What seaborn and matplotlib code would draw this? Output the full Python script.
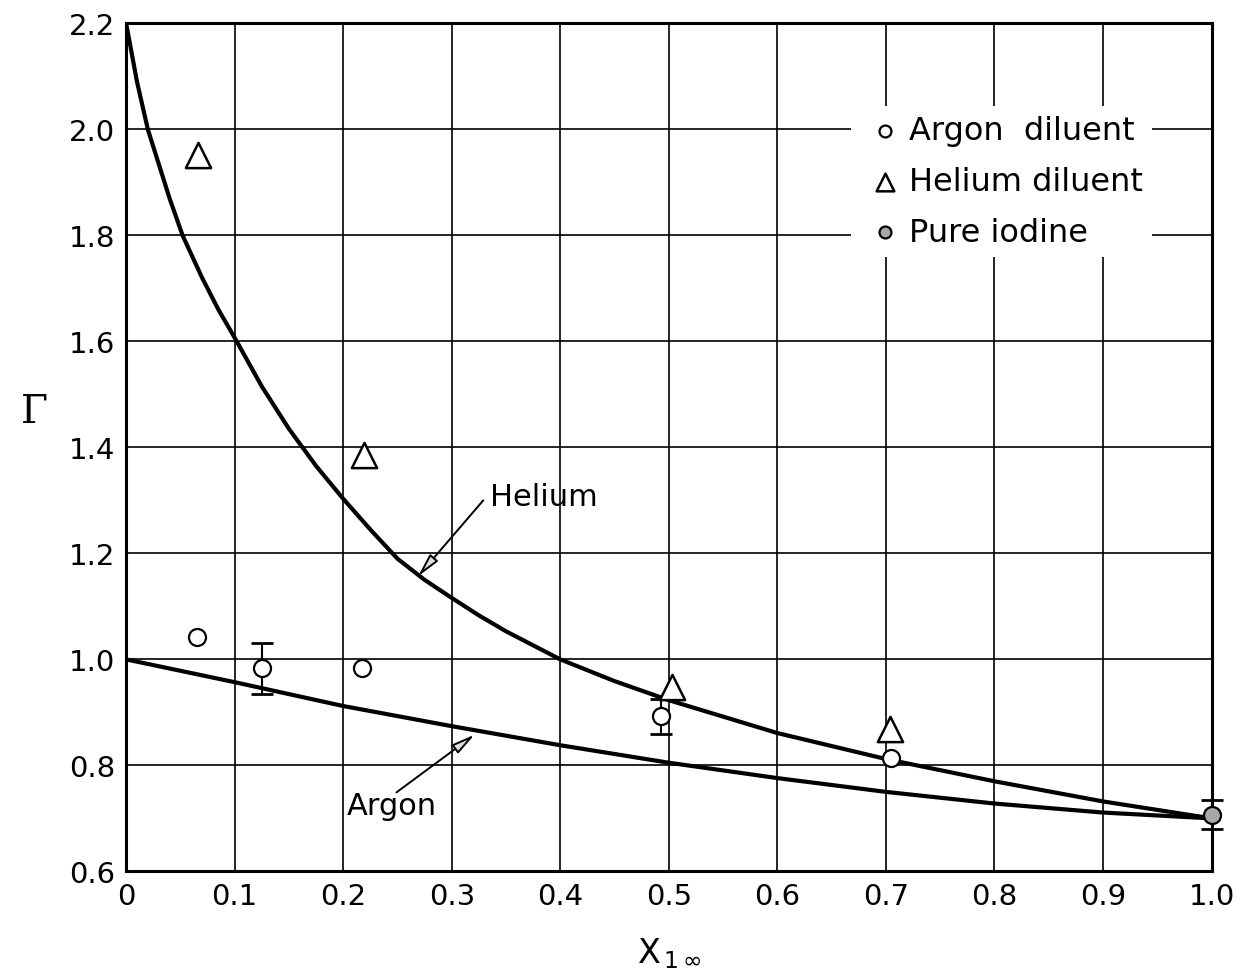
import numpy as np
import pandas as pd
import matplotlib
matplotlib.use('Agg')
import matplotlib.pyplot as plt
import seaborn as sns

# --- data ---
helium_x = [0, 0.01, 0.02, 0.03, 0.04, 0.052, 0.07, 0.085, 0.1, 0.125, 0.15, 0.175, 0.2,
            0.225, 0.25, 0.275, 0.3, 0.325, 0.35, 0.4, 0.45, 0.5, 0.6, 0.7, 0.8, 0.9, 1.0]
helium_y = [2.2, 2.09, 2.0, 1.935, 1.87, 1.80, 1.72, 1.66, 1.607, 1.515, 1.435, 1.365, 1.303,
            1.245, 1.19, 1.15, 1.116, 1.083, 1.053, 1.0, 0.959, 0.923, 0.861, 0.812, 0.770, 0.732, 0.70]

argon_x = [0, 0.1, 0.2, 0.3, 0.4, 0.5, 0.6, 0.7, 0.8, 0.9, 1.0]
argon_y = [1.0, 0.957, 0.912, 0.874, 0.838, 0.805, 0.776, 0.750, 0.728, 0.711, 0.70]

argon_pts_x = [0.065, 0.125, 0.217, 0.493, 0.705]
argon_pts_y = [1.043, 0.983, 0.983, 0.893, 0.814]

helium_pts_x = [0.066, 0.219, 0.503, 0.704]
helium_pts_y = [1.951, 1.385, 0.947, 0.869]

iodine_x = [1.0]
iodine_y = [0.707]

# error bars (x, low, high)
err_x = [0.125, 0.493, 1.0]
err_lo = [0.935, 0.86, 0.68]
err_hi = [1.03, 0.925, 0.735]
err_mid = [0.983, 0.893, 0.707]

x_ticks = [0, 0.1, 0.2, 0.3, 0.4, 0.5, 0.6, 0.7, 0.8, 0.9, 1.0]
x_labels = ['0', '0.1', '0.2', '0.3', '0.4', '0.5', '0.6', '0.7', '0.8', '0.9', '1.0']
y_ticks = [0.6, 0.8, 1.0, 1.2, 1.4, 1.6, 1.8, 2.0, 2.2]
y_labels = ['0.6', '0.8', '1.0', '1.2', '1.4', '1.6', '1.8', '2.0', '2.2']

sns.set_style('white')
plt.rcParams['font.family'] = ['DejaVu Sans']
plt.rcParams['text.color'] = 'black'
plt.rcParams['xtick.color'] = 'black'
plt.rcParams['ytick.color'] = 'black'
plt.rcParams['axes.labelcolor'] = 'black'

fig = plt.figure(figsize=(12.49, 9.78), dpi=100)
ax = fig.add_axes([0.101, 0.108, 0.869, 0.867])

sns.lineplot(x=helium_x, y=helium_y, ax=ax, color='black', lw=3, zorder=3)
sns.lineplot(x=argon_x, y=argon_y, ax=ax, color='black', lw=3, zorder=3)

# error bars
lo = np.array(err_mid) - np.array(err_lo)
hi = np.array(err_hi) - np.array(err_mid)
eb = ax.errorbar(err_x, err_mid, yerr=[lo, hi], fmt='none', ecolor='black',
                 elinewidth=1.5, capsize=8, capthick=2, zorder=4)
for art in eb.lines[1] + eb.lines[2]:
    art.set_clip_on(False)

sns.scatterplot(x=argon_pts_x, y=argon_pts_y, ax=ax, marker='o', s=150,
                facecolors='white', edgecolor='black', linewidth=1.6, zorder=5,
                label='Argon  diluent')
sns.scatterplot(x=helium_pts_x, y=helium_pts_y, ax=ax, marker='^', s=330,
                facecolors='white', edgecolor='black', linewidth=1.8, zorder=5,
                label='Helium diluent')
sns.scatterplot(x=iodine_x, y=iodine_y, ax=ax, marker='o', s=150,
                color='#a8a8a8', edgecolor='black', linewidth=1.6, zorder=5,
                label='Pure iodine', clip_on=False)

ax.set_xlim(0, 1.0)
ax.set_ylim(0.6, 2.2)
ax.set_xticks(x_ticks)
ax.set_xticklabels(x_labels)
ax.set_yticks(y_ticks)
ax.set_yticklabels(y_labels)
ax.tick_params(axis='both', labelsize=21, length=0, pad=8)
ax.grid(True, color='black', lw=1.2)
ax.set_axisbelow(True)
for s in ax.spines.values():
    s.set_color('black')
    s.set_linewidth(2.2)

ax.set_ylabel('Γ', fontsize=28, rotation=0, family='DejaVu Serif')
ax.yaxis.set_label_coords(-0.085, 0.52)
ax.set_xlabel(r'X$_{\,1\,\infty}$', fontsize=24, labelpad=18)

leg = ax.legend(loc='upper right', bbox_to_anchor=(0.96, 0.922), frameon=True,
                fontsize=23, handletextpad=0.0, labelspacing=0.62,
                markerscale=0.7, borderpad=0.3, handlelength=1.5)
leg.get_frame().set_facecolor('white')
leg.get_frame().set_edgecolor('none')
leg.get_frame().set_alpha(1)

arrow = dict(arrowstyle='-|>,head_length=1.4,head_width=0.32',
             fc='#dddddd', ec='black', lw=1.4, shrinkA=0, shrinkB=0)
ax.text(0.335, 1.308, 'Helium', fontsize=22, va='center', ha='left')
ax.annotate('', xy=(0.269, 1.157), xytext=(0.329, 1.30), arrowprops=arrow)
ax.text(0.203, 0.725, 'Argon', fontsize=22, va='center', ha='left')
ax.annotate('', xy=(0.321, 0.858), xytext=(0.249, 0.749), arrowprops=arrow)

fig.savefig('out.png', dpi=100, facecolor='white')
